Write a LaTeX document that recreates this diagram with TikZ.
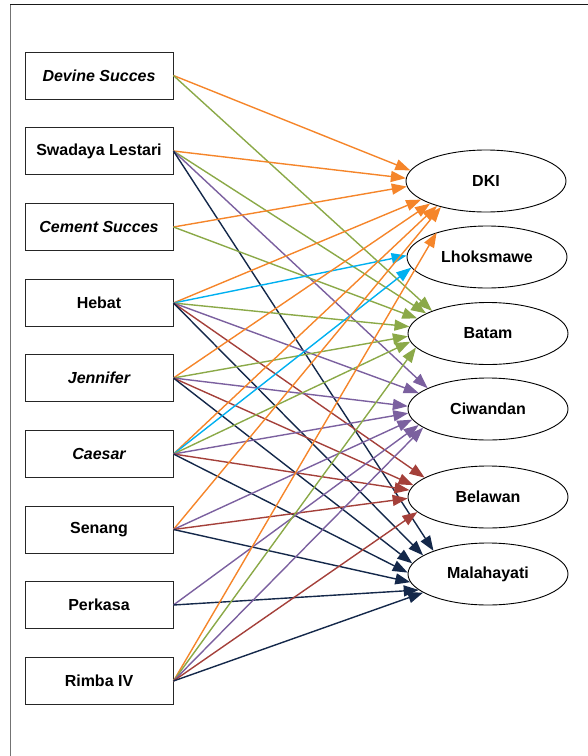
\documentclass[tikz,border=0pt]{standalone}
\usepackage{fontspec}
\setmainfont{Liberation Sans}
\usetikzlibrary{shapes.geometric,arrows.meta}
\definecolor{cdki}{HTML}{F5852A}
\definecolor{clhok}{HTML}{00B0F0}
\definecolor{cbatam}{HTML}{8BA948}
\definecolor{cciw}{HTML}{7B609F}
\definecolor{cbel}{HTML}{A4403A}
\definecolor{cmal}{HTML}{14284A}
\begin{document}
\begin{tikzpicture}[x=1pt,y=-1pt,
  firm/.style={draw=black!85,line width=0.9pt,minimum width=148pt,minimum height=47pt,inner sep=0pt,font=\fontsize{16}{19}\selectfont\bfseries},
  port/.style={ellipse,draw,line width=0.9pt,minimum width=160pt,minimum height=62pt,inner sep=0pt,font=\fontsize{16}{19}\selectfont\bfseries},
  link/.style={line width=1.4pt,-{Triangle[length=15pt,width=11pt]}},
  todki/.style={link,cdki},
  tolhok/.style={link,clhok},
  tobatam/.style={link,cbatam},
  tociw/.style={link,cciw},
  tobel/.style={link,cbel},
  tomal/.style={link,cmal}]
\useasboundingbox (0,0) rectangle (588,756);
% frame
\draw[black!55,line width=1pt] (10,756) -- (10,4);
\draw[black!90,line width=1pt] (10,4) -- (590,4);

% firms
\node[firm] (devine) at (99,75.5) {\itshape Devine Succes};
\node[firm] (swadaya) at (99,151) {Swadaya Lestari};
\node[firm] (cement) at (99,227) {\itshape Cement Succes};
\node[firm] (hebat) at (99,303) {Hebat};
\node[firm] (jennifer) at (99,378) {\itshape Jennifer};
\node[firm] (caesar) at (99,454) {\itshape Caesar};
\node[firm] (senang) at (99,529.5) {Senang};
\node[firm] (perkasa) at (99,605) {Perkasa};
\node[firm] (rimba) at (99,681) {Rimba IV};

% ports
\node[port] (dki) at (486,181) {DKI};
\node[port] (lhok) at (487,257) {Lhoksmawe};
\node[port] (batam) at (488,333.5) {Batam};
\node[port] (ciwandan) at (488,409) {Ciwandan};
\node[port] (belawan) at (488,497) {Belawan};
\node[port] (malahayati) at (488,574) {Malahayati};

% routes
\draw[todki] (devine.east) -- (dki.172);
\draw[tobatam] (devine.east) -- (batam.158);
\draw[todki] (swadaya.east) -- (dki.178);
\draw[tobatam] (swadaya.east) -- (batam.162);
\draw[tociw] (swadaya.east) -- (ciwandan.161);
\draw[tomal] (swadaya.east) -- (malahayati.157);
\draw[todki] (cement.east) -- (dki.184);
\draw[tobatam] (cement.east) -- (batam.168);
\draw[todki] (hebat.east) -- (dki.196);
\draw[tolhok] (hebat.east) -- (lhok.179);
\draw[tobatam] (hebat.east) -- (batam.175);
\draw[tociw] (hebat.east) -- (ciwandan.167);
\draw[tobel] (hebat.east) -- (belawan.163);
\draw[tomal] (hebat.east) -- (malahayati.164);
\draw[todki] (jennifer.east) -- (dki.202);
\draw[tobatam] (jennifer.east) -- (batam.182);
\draw[tociw] (jennifer.east) -- (ciwandan.178);
\draw[tobel] (jennifer.east) -- (belawan.171);
\draw[tomal] (jennifer.east) -- (malahayati.172);
\draw[todki] (caesar.east) -- (dki.207);
\draw[tolhok] (caesar.east) -- (lhok.188);
\draw[tobatam] (caesar.east) -- (batam.186);
\draw[tociw] (caesar.east) -- (ciwandan.183);
\draw[tobel] (caesar.east) -- (belawan.175);
\draw[tomal] (caesar.east) -- (malahayati.179);
\draw[todki] (senang.east) -- (dki.210);
\draw[tociw] (senang.east) -- (ciwandan.188);
\draw[tobel] (senang.east) -- (belawan.181);
\draw[tomal] (senang.east) -- (malahayati.186);
\draw[tociw] (perkasa.east) -- (ciwandan.193);
\draw[tomal] (perkasa.east) -- (malahayati.193);
\draw[todki] (rimba.east) -- (lhok.154);
\draw[tobatam] (rimba.east) -- (batam.191);
\draw[tociw] (rimba.east) -- (ciwandan.196);
\draw[tobel] (rimba.east) -- (belawan.192);
\draw[tomal] (rimba.east) -- (malahayati.196);
\end{tikzpicture}
\end{document}
